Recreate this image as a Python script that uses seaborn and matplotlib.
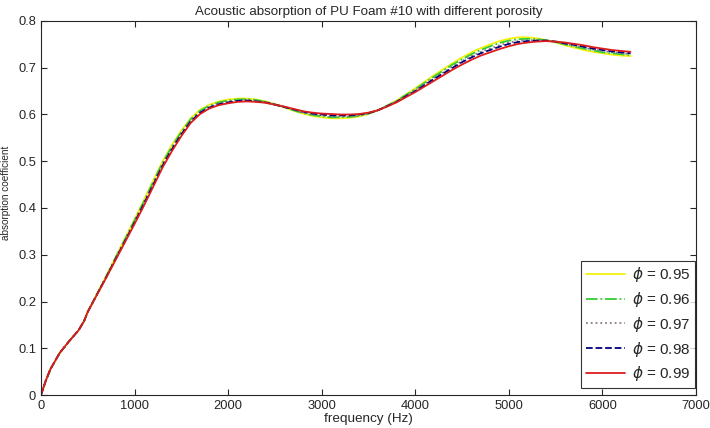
import numpy as np
import pandas as pd
import seaborn as sns
import matplotlib
matplotlib.use("Agg")
import matplotlib.pyplot as plt

# frequency grid (Hz)
freq = [0, 50, 100, 200, 300, 400, 460] + list(range(500, 6400, 100))

low = [0.0, 0.030, 0.055, 0.090, 0.115, 0.138, 0.158]

phi_095 = low + [
    .178, .217, .256, .296, .336, .376, .417, .459, .500, .535,
    .566, .592, .610, .621, .628, .632, .634, .634, .632, .628,
    .622, .615, .608, .602, .597, .594, .592, .592, .593, .596,
    .601, .609, .619, .630, .643, .656, .670, .684, .697, .710,
    .722, .733, .742, .750, .757, .762, .765, .765, .763, .759,
    .754, .748, .743, .738, .734, .731, .728, .726, .725]

phi_096 = low + [
    .178, .216, .255, .295, .334, .374, .414, .456, .497, .532,
    .563, .590, .608, .619, .626, .630, .632, .633, .631, .627,
    .622, .616, .609, .603, .599, .596, .594, .594, .595, .597,
    .602, .609, .619, .629, .642, .654, .668, .681, .694, .707,
    .718, .729, .738, .746, .753, .758, .761, .762, .761, .759,
    .755, .750, .745, .741, .737, .733, .731, .729, .727]

phi_097 = low + [
    .178, .216, .254, .293, .332, .371, .411, .452, .493, .528,
    .560, .587, .605, .617, .624, .628, .630, .631, .629, .626,
    .621, .616, .610, .604, .600, .598, .596, .596, .596, .598,
    .602, .609, .618, .628, .640, .652, .665, .678, .690, .703,
    .714, .725, .734, .741, .748, .754, .757, .759, .759, .758,
    .755, .751, .747, .743, .739, .736, .733, .731, .729]

phi_098 = low + [
    .178, .216, .253, .292, .330, .369, .409, .450, .491, .526,
    .558, .585, .604, .615, .622, .626, .629, .630, .628, .626,
    .621, .616, .611, .606, .602, .600, .598, .598, .598, .600,
    .603, .609, .618, .627, .639, .650, .663, .676, .688, .700,
    .712, .722, .731, .738, .745, .751, .755, .757, .758, .758,
    .756, .752, .749, .745, .741, .738, .735, .733, .731]

phi_099 = low + [
    .178, .215, .252, .290, .328, .366, .405, .446, .487, .522,
    .554, .582, .601, .613, .620, .624, .627, .628, .627, .625,
    .621, .617, .612, .607, .604, .602, .601, .600, .600, .601,
    .604, .609, .617, .626, .637, .648, .660, .672, .684, .696,
    .707, .717, .726, .733, .740, .746, .751, .754, .756, .757,
    .756, .754, .751, .748, .744, .741, .738, .736, .734]

labels = ["0.95", "0.96", "0.97", "0.98", "0.99"]
series = [phi_095, phi_096, phi_097, phi_098, phi_099]
colors = ["#f2f20a", "#33cc33", "#8a7a80", "#00007f", "#dd1c1c"]
styles = ["-", "-.", ":", "--", "-"]

sns.set_style("ticks", {"xtick.direction": "in", "ytick.direction": "in"})
plt.rcParams["font.family"] = ["Liberation Sans", "DejaVu Sans"]

fig = plt.figure(figsize=(7.1, 4.28), dpi=100)
ax = fig.add_axes([41 / 710, 1 - 395 / 428, 655 / 710, 374 / 428])

for lab, vals, c, ls in zip(labels, series, colors, styles):
    sns.lineplot(x=freq, y=vals, ax=ax, color=c, linestyle=ls, linewidth=1.3,
                 label=r"$\phi$ = " + lab)

ax.set_xlim(0, 7000)
ax.set_ylim(0, 0.8)
ax.set_xticks(range(0, 7001, 1000))
ax.set_yticks(np.arange(0, 0.81, 0.1))
ax.set_yticklabels(["0", "0.1", "0.2", "0.3", "0.4", "0.5", "0.6", "0.7", "0.8"])
ax.tick_params(labelsize=9.3, length=4, top=True, right=True, width=0.8)
for s in ax.spines.values():
    s.set_visible(True)
    s.set_linewidth(0.8)

ax.set_title("Acoustic absorption of PU Foam #10 with different porosity",
             fontsize=9.6, pad=4)
ax.set_xlabel("frequency (Hz)", fontsize=9.7, labelpad=1)
ax.set_ylabel("absorption coefficient", fontsize=7.2, labelpad=4)
ax.yaxis.set_label_coords(-0.046, 0.54)

leg = ax.legend(loc="lower right", bbox_to_anchor=(0.998, 0.019),
                borderaxespad=0, fontsize=11, frameon=True, fancybox=False,
                edgecolor="black", handlelength=2.6, labelspacing=0.38,
                borderpad=0.3, handletextpad=0.4)
leg.get_frame().set_linewidth(0.8)

fig.savefig("out.png", dpi=100)
